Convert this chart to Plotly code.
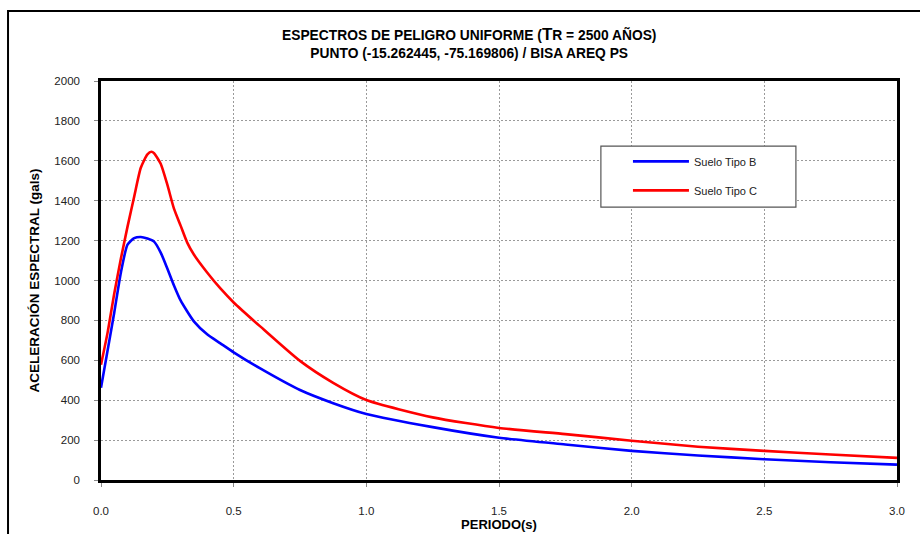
import plotly.graph_objects as go

# Uniform hazard spectra, Tr = 2500 years
periodo_b = [0.0, 0.025, 0.05, 0.075, 0.10, 0.125, 0.15, 0.175, 0.20, 0.225, 0.25,
             0.275, 0.30, 0.35, 0.40, 0.45, 0.50, 0.60, 0.75, 0.875, 1.00, 1.25,
             1.50, 1.75, 2.00, 2.25, 2.50, 2.75, 3.00]
suelo_b = [462, 650, 840, 1040, 1180, 1212, 1218, 1210, 1195, 1140, 1060,
           975, 900, 795, 730, 685, 640, 559, 451, 385, 331, 265,
           212, 178, 146, 123, 104, 89, 77]

periodo_c = [0.0, 0.025, 0.05, 0.075, 0.10, 0.125, 0.15, 0.175, 0.19, 0.20, 0.225,
             0.25, 0.275, 0.30, 0.325, 0.35, 0.40, 0.45, 0.50, 0.60, 0.75, 0.875,
             1.00, 1.25, 1.50, 1.75, 2.00, 2.25, 2.50, 2.75, 3.00]
suelo_c = [578, 740, 935, 1110, 1270, 1420, 1565, 1632, 1645, 1638, 1585,
           1480, 1360, 1275, 1190, 1130, 1040, 960, 890, 770, 597, 487,
           401, 314, 261, 230, 197, 167, 146, 128, 111]

x_ticks = [0.0, 0.5, 1.0, 1.5, 2.0, 2.5, 3.0]
y_ticks = list(range(0, 2001, 200))

FONT = "Liberation Sans, Arial, sans-serif"

fig = go.Figure()
fig.add_trace(go.Scatter(x=periodo_b, y=suelo_b, mode="lines", name="Suelo Tipo B",
                         legendgroup="b",
                         line=dict(color="#0000ff", width=2.6, shape="spline", smoothing=0.6)))
fig.add_trace(go.Scatter(x=periodo_c, y=suelo_c, mode="lines", name="Suelo Tipo C",
                         legendgroup="c",
                         line=dict(color="#ff0000", width=2.6, shape="spline", smoothing=0.6)))

grid = dict(showgrid=True, gridcolor="#9a9a9a", gridwidth=1, griddash="2px,2px")

fig.update_xaxes(range=[0, 3], tickvals=x_ticks, ticktext=[f"{v:.1f}" for v in x_ticks],
                 showline=True, linecolor="black", linewidth=2.5, mirror=True,
                 ticks="outside", ticklen=4, tickcolor="#888", tickwidth=1,
                 ticklabelstandoff=14, zeroline=False, automargin=False,
                 tickfont=dict(family=FONT, size=11.5, color="#222"),
                 title=dict(text="<b>PERIODO(s)</b>", standoff=4,
                            font=dict(family=FONT, size=13, color="black")),
                 **grid)
fig.update_yaxes(range=[0, 2000], tickvals=y_ticks,
                 showline=True, linecolor="black", linewidth=2.5, mirror=True,
                 ticks="outside", ticklen=4, tickcolor="#888", tickwidth=1,
                 ticklabelstandoff=12, zeroline=False, automargin=False,
                 tickfont=dict(family=FONT, size=11.5, color="#222"),
                 title=dict(text="<b>ACELERACIÓN ESPECTRAL (gals)</b>", standoff=12,
                            font=dict(family=FONT, size=13.5, color="black")),
                 **grid)

fig.add_annotation(
    text="<b>ESPECTROS DE PELIGRO UNIFORME (<span style='font-size:17px'>T</span>R = 2500 AÑOS)</b>"
         "<br><b>PUNTO (-15.262445, -75.169806) / BISA AREQ PS</b>",
    xref="paper", yref="paper", x=0.462, y=1.045, xanchor="center", yanchor="bottom",
    showarrow=False, align="center",
    font=dict(family=FONT, size=13.8, color="black"))

# outer chart frame and legend box
fig.add_shape(type="rect", xref="paper", yref="paper", x0=-0.1168, x1=1.3, y0=-0.6, y1=1.1757,
              line=dict(color="black", width=2), layer="below")
fig.add_shape(type="rect", xref="paper", yref="paper", x0=0.628, x1=0.873, y0=0.684, y1=0.837,
              line=dict(color="#555", width=1.2), fillcolor="white", layer="above")

fig.update_layout(
    width=920, height=534,
    margin=dict(l=101, r=23, t=81, b=54),
    paper_bgcolor="white", plot_bgcolor="white",
    showlegend=True,
    legend=dict(x=0.662, y=0.835, xanchor="left", yanchor="top",
                bgcolor="rgba(0,0,0,0)", borderwidth=0,
                tracegroupgap=10, itemwidth=56,
                font=dict(family=FONT, size=11, color="#222")),
)

fig.write_html("out.html")
